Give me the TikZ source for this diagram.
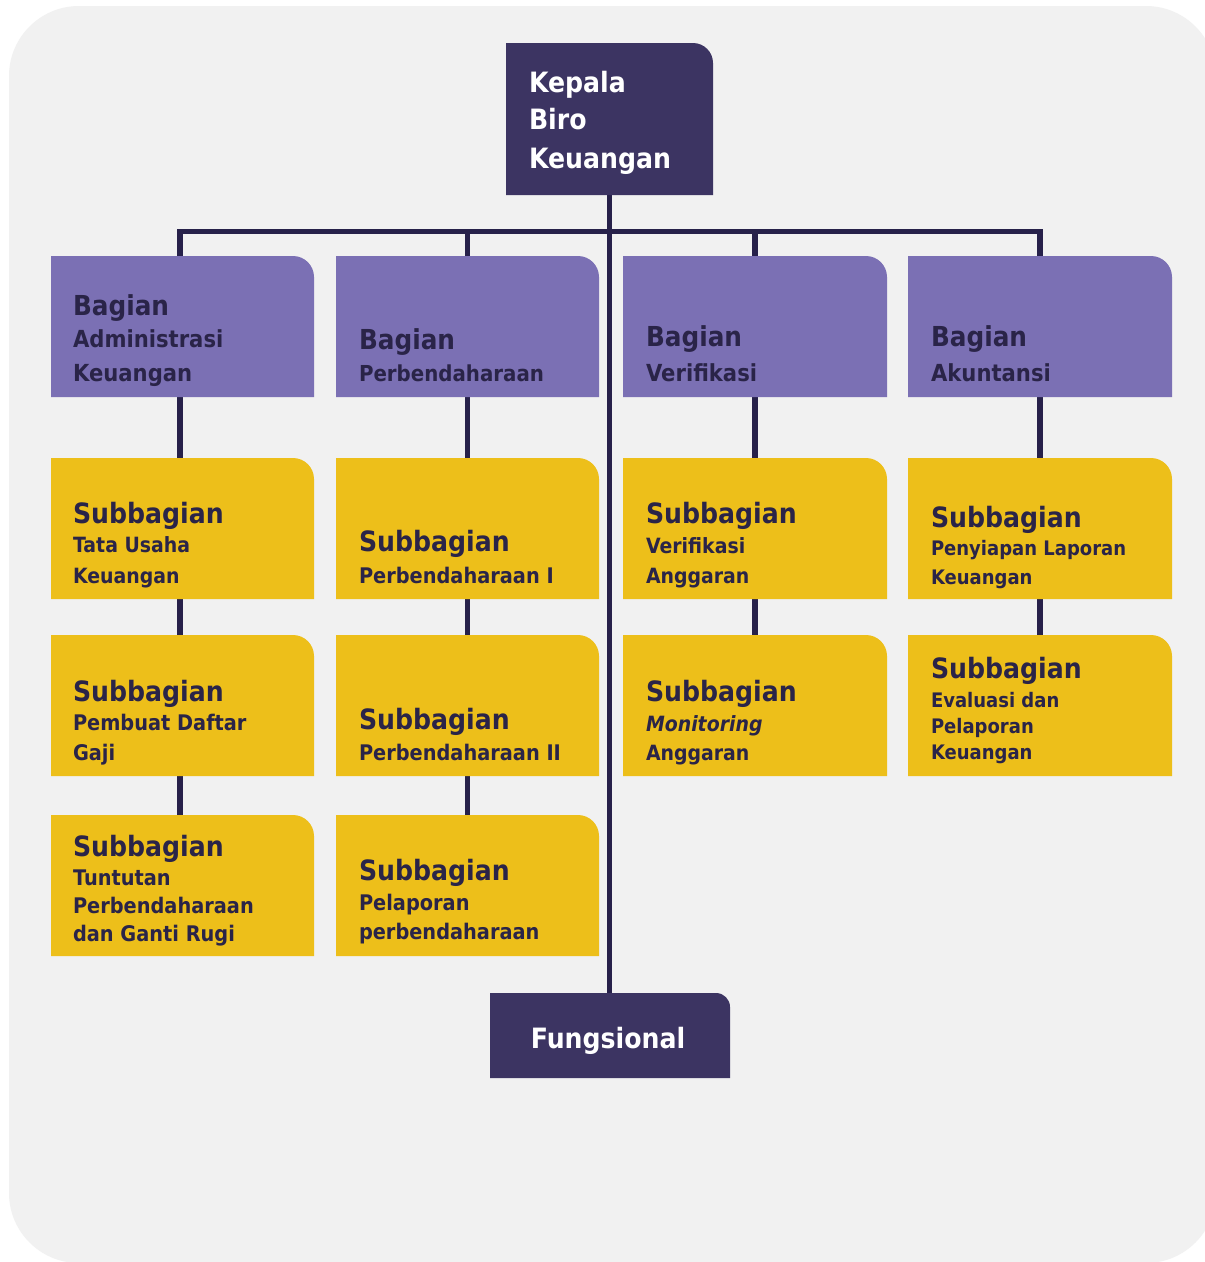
\documentclass[tikz,border=0pt]{standalone}
\usepackage{fontspec}
\setmainfont{DejaVu Sans}[FakeStretch=0.9]
\usetikzlibrary{calc}
\definecolor{bgc}{HTML}{F1F1F1}
\definecolor{navy}{HTML}{3C3462}
\definecolor{linec}{HTML}{27214A}
\definecolor{purp}{HTML}{7B70B4}
\definecolor{yell}{HTML}{EDBF1A}
\definecolor{txtd}{HTML}{2A2448}
\pgfdeclarelayer{background}
\pgfsetlayers{background,main}
\tikzset{
  boxnode/.style={inner sep=0pt, outer sep=0pt, draw=none, rectangle},
  txtline/.style={anchor=base west, inner sep=0pt, outer sep=0pt},
  conn/.style={draw=linec, line width=5.5pt},
}
\newcommand\orgbox[7]{%
  \node[boxnode, minimum width=#4pt, minimum height=#5pt, anchor=north west] (#1) at (#2pt,-#3pt) {};
  \fill[#6] (#1.south west) |- ([xshift=-#7pt]#1.north east) arc[start angle=90,end angle=0,radius=#7pt] |- (#1.south west) -- cycle;
}
\newcommand\txl[6]{%
  \node[txtline, text=#5, font=\fontsize{#4pt}{#4pt}\selectfont\bfseries] (#1) at (#2pt,-#3pt) {#6};
}
\begin{document}
\begin{tikzpicture}
\useasboundingbox (0,0) rectangle (1205pt,-1262pt);
\begin{pgfonlayer}{background}
  \fill[white] (0,0) rectangle (1205pt,-1262pt);
  \fill[bgc, rounded corners=70pt] (9pt,-6pt) rectangle (1216pt,-1263pt);
\end{pgfonlayer}

% boxes
\orgbox{kep}{506}{43}{207}{152}{navy}{20}
\orgbox{fun}{490}{993}{240}{85}{navy}{14}
\orgbox{b1}{51}{256}{263}{141}{purp}{21}
\orgbox{b2}{336}{256}{263}{141}{purp}{21}
\orgbox{b3}{623}{256}{264}{141}{purp}{21}
\orgbox{b4}{908}{256}{264}{141}{purp}{21}
\orgbox{s11}{51}{458}{263}{141}{yell}{21}
\orgbox{s12}{51}{635}{263}{141}{yell}{21}
\orgbox{s13}{51}{815}{263}{141}{yell}{21}
\orgbox{s21}{336}{458}{263}{141}{yell}{21}
\orgbox{s22}{336}{635}{263}{141}{yell}{21}
\orgbox{s23}{336}{815}{263}{141}{yell}{21}
\orgbox{s31}{623}{458}{264}{141}{yell}{21}
\orgbox{s32}{623}{635}{264}{141}{yell}{21}
\orgbox{s41}{908}{458}{264}{141}{yell}{21}
\orgbox{s42}{908}{635}{264}{141}{yell}{21}

% texts
\txl{k1}{529}{92}{28}{white}{Kepala}
\txl{k2}{529}{129}{28}{white}{Biro}
\txl{k3}{529}{168}{28}{white}{Keuangan}
\node[txtline, anchor=base, text=white, font=\fontsize{28pt}{28pt}\selectfont\bfseries] (f1) at (608pt,-1048pt) {Fungsional};

\txl{b1a}{73}{315}{27.5}{txtd}{Bagian}
\txl{b1b}{73}{347}{23.5}{txtd}{Administrasi}
\txl{b1c}{73}{381}{23.5}{txtd}{Keuangan}
\txl{b2a}{359}{349}{27.5}{txtd}{Bagian}
\txl{b2b}{359}{381}{22}{txtd}{Perbendaharaan}
\txl{b3a}{646}{346}{27.5}{txtd}{Bagian}
\txl{b3b}{646}{381}{23.5}{txtd}{Verifikasi}
\txl{b4a}{931}{346}{27.5}{txtd}{Bagian}
\txl{b4b}{931}{381}{23.5}{txtd}{Akuntansi}

\txl{s11a}{73}{523}{28}{txtd}{Subbagian}
\txl{s11b}{73}{552}{21}{txtd}{Tata Usaha}
\txl{s11c}{73}{583}{21}{txtd}{Keuangan}
\txl{s21a}{359}{551}{28}{txtd}{Subbagian}
\txl{s21b}{359}{583}{21.5}{txtd}{Perbendaharaan I}
\txl{s31a}{646}{523}{28}{txtd}{Subbagian}
\txl{s31b}{646}{553}{21}{txtd}{Verifikasi}
\txl{s31c}{646}{583}{21}{txtd}{Anggaran}
\txl{s41a}{931}{527}{28}{txtd}{Subbagian}
\txl{s41b}{931}{555}{20}{txtd}{Penyiapan Laporan}
\txl{s41c}{931}{584}{20}{txtd}{Keuangan}

\txl{s12a}{73}{701}{28}{txtd}{Subbagian}
\txl{s12b}{73}{730}{21.5}{txtd}{Pembuat Daftar}
\txl{s12c}{73}{760}{21.5}{txtd}{Gaji}
\txl{s22a}{359}{729}{28}{txtd}{Subbagian}
\txl{s22b}{359}{760}{21.5}{txtd}{Perbendaharaan II}
\txl{s32a}{646}{701}{28}{txtd}{Subbagian}
\txl{s32b}{646}{731}{21}{txtd}{\itshape Monitoring}
\txl{s32c}{646}{760}{21}{txtd}{Anggaran}
\txl{s42a}{931}{678}{28}{txtd}{Subbagian}
\txl{s42b}{931}{707}{20}{txtd}{Evaluasi dan}
\txl{s42c}{931}{733}{20}{txtd}{Pelaporan}
\txl{s42d}{931}{759}{20}{txtd}{Keuangan}

\txl{s13a}{73}{856}{28}{txtd}{Subbagian}
\txl{s13b}{73}{885}{21.5}{txtd}{Tuntutan}
\txl{s13c}{73}{913}{21.5}{txtd}{Perbendaharaan}
\txl{s13d}{73}{941}{21.5}{txtd}{dan Ganti Rugi}
\txl{s23a}{359}{880}{28}{txtd}{Subbagian}
\txl{s23b}{359}{910}{21.5}{txtd}{Pelaporan}
\txl{s23c}{359}{939}{21.5}{txtd}{perbendaharaan}

% connectors
\begin{pgfonlayer}{background}
  \coordinate (busy) at (610pt,-231.5pt);
  \draw[conn] (kep.south) -- (kep.south |- fun.north);
  \draw[conn] ([xshift=-2.5pt]b1.north) |- (b4.north |- busy) -- (b4.north);
  \draw[conn] (b2.north |- busy) -- (b2.north);
  \draw[conn] (b3.north |- busy) -- (b3.north);
  \draw[conn] ([xshift=-2.5pt]b1.south) -- ([xshift=-2.5pt]s11.north);
  \draw[conn] ([xshift=-2.5pt]s11.south) -- ([xshift=-2.5pt]s12.north);
  \draw[conn] ([xshift=-2.5pt]s12.south) -- ([xshift=-2.5pt]s13.north);
  \draw[conn] (b2.south) -- (s21.north);
  \draw[conn] (s21.south) -- (s22.north);
  \draw[conn] (s22.south) -- (s23.north);
  \draw[conn] (b3.south) -- (s31.north);
  \draw[conn] (s31.south) -- (s32.north);
  \draw[conn] (b4.south) -- (s41.north);
  \draw[conn] (s41.south) -- (s42.north);
\end{pgfonlayer}
\end{tikzpicture}
\end{document}
